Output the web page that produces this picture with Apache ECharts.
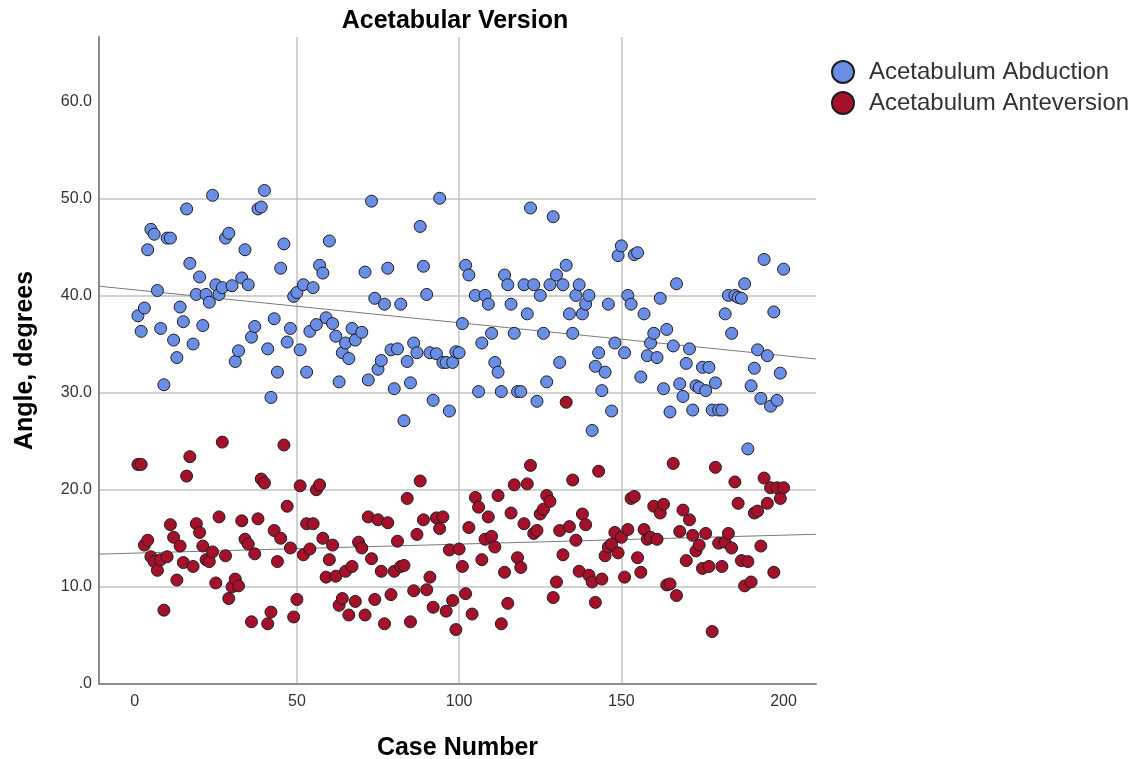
<!DOCTYPE html>
<html>
<head>
<meta charset="utf-8">
<script src="https://cdn.jsdelivr.net/npm/echarts@6/dist/echarts.min.js"></script>
<style>
  html, body { margin: 0; padding: 0; background: #fff; }
  #chart { width: 1135px; height: 759px; }
</style>
</head>
<body>
<div id="chart"></div>
<script>
// 数据：每个病例一个点，null = 缺失
var abduction = [
  37.9, 36.3, 38.7, 44.7, 46.8, 46.3, 40.5, 36.6, 30.8, 45.9,
  45.9, 35.4, 33.6, 38.8, 37.3, 48.9, 43.3, 35.0, 40.1, 41.9,
  36.9, 40.1, 39.3, 50.3, 41.1, 40.1, 40.8, 45.9, 46.4, 41.0,
  33.2, 34.3, 41.8, 44.7, 41.1, 35.7, 36.8, 48.9, 49.1, 50.8,
  34.5, 29.5, 37.6, 32.1, 42.8, 45.3, 35.2, 36.6, 39.9, 40.3,
  34.4, 41.1, 32.1, 36.3, 40.8, 37.0, 43.1, 42.3, 37.7, 45.6,
  37.1, 35.8, 31.1, 34.1, 35.1, 33.5, 36.6, 35.4, null, 36.2,
  42.4, 31.3, 49.7, 39.7, 32.4, 33.3, 39.1, 42.8, 34.4, 30.4,
  34.5, 39.1, 27.1, 33.2, 31.0, 35.1, 34.1, 47.1, 43.0, 40.1,
  34.1, 29.2, 34.0, 50.0, 33.1, 33.1, 28.1, 33.1, 34.2, 34.1,
  37.1, 43.1, 42.1, null, 40.0, 30.1, 35.1, 40.0, 39.1, 36.1,
  33.1, 32.1, 30.1, 42.1, 41.1, 39.1, 36.1, 30.1, 30.1, 41.1,
  38.1, 49.0, 41.1, 29.1, 40.0, 36.1, 31.1, 41.1, 48.1, 42.1,
  33.1, 41.1, 43.1, 38.1, 36.1, 40.0, 41.1, 38.1, 39.1, 40.0,
  26.1, 32.7, 34.1, 30.2, 32.1, 39.1, 28.1, 35.1, 44.1, 45.1,
  34.1, 40.0, 39.1, 44.2, 44.4, 31.6, 38.1, 33.8, 35.1, 36.1,
  33.6, 39.7, 30.4, 36.5, 28.0, 34.8, 41.2, 30.9, 29.6, 33.0,
  34.5, 28.2, 30.7, 30.5, 32.6, 30.2, 32.6, 28.2, 31.0, 28.2,
  28.2, 38.1, 40.0, 36.1, 40.0, 39.8, 39.7, 41.2, 24.2, 30.7,
  32.5, 34.4, 29.4, 43.7, 33.8, 28.6, 38.3, 29.2, 32.0, 42.7
];
var anteversion = [
  22.6, 22.6, 14.3, 14.8, 13.1, 12.6, 11.7, 12.8, 7.6, 13.1,
  16.4, 15.1, 10.7, 14.2, 12.5, 21.4, 23.4, 12.1, 16.5, 15.6,
  14.2, 12.8, 12.6, 13.6, 10.4, 17.2, 24.9, 13.2, 8.8, 10.0,
  10.8, 10.1, 16.8, 14.9, 14.4, 6.4, 13.4, 17.0, 21.1, 20.7,
  6.2, 7.4, 15.8, 12.6, 15.0, 24.6, 18.3, 14.0, 6.9, 8.7,
  20.4, 13.3, 16.5, 13.9, 16.5, 20.0, 20.5, 15.0, 11.0, 12.8,
  14.3, 11.1, 8.1, 8.8, 11.6, 7.1, 12.1, 8.5, 14.6, 14.0,
  7.1, 17.2, 12.9, 8.7, 16.9, 11.6, 6.2, 16.6, 9.2, 11.6,
  14.7, 12.1, 12.2, 19.1, 6.4, 9.6, 15.4, 20.9, 16.9, 9.7,
  11.0, 7.9, 17.1, 16.0, 17.2, 7.5, 13.8, 8.6, 5.6, 13.9,
  12.1, 9.3, 16.1, 7.2, 19.2, 18.2, 12.8, 14.9, 17.2, 15.2,
  14.1, 19.4, 6.2, 11.5, 8.3, 17.6, 20.5, 13.0, 12.0, 16.5,
  20.6, 22.5, 15.5, 15.8, 17.5, 18.0, 19.4, 18.8, 8.9, 10.5,
  15.8, 13.3, 29.0, 16.2, 21.0, 14.8, 11.6, 17.5, 16.4, 11.2,
  10.5, 8.4, 21.9, 10.8, 13.2, 14.1, 14.4, 15.6, 13.5, 15.1,
  11.0, 15.9, 19.1, 19.3, 13.0, 11.5, 15.9, 14.9, 15.1, 18.3,
  14.9, 17.6, 18.5, 10.2, 10.3, 22.7, 9.1, 15.7, 17.9, 12.7,
  16.9, 15.3, 13.7, 14.3, 11.9, 15.5, 12.1, 5.4, 22.3, 14.5,
  12.1, 14.6, 15.5, 14.0, 20.8, 18.6, 12.7, 10.1, 12.6, 10.5,
  17.6, 17.8, 14.2, 21.2, 18.6, 20.2, 11.5, 20.2, 19.1, 20.2
];
var seriesNames = ['Acetabulum Abduction', 'Acetabulum Anteversion'];
var xTicks = [0, 50, 100, 150, 200];
var yTicks = [0, 10, 20, 30, 40, 50, 60];
var xMin = -11, xMax = 210;
var yMin = 0, yMax = 66.6;

function toPoints(values) {
  var pts = [];
  values.forEach(function(v, i) {
    if (v !== null) pts.push([i + 1, v]);
  });
  return pts;
}

// 线性拟合（总体拟合线）
function fitLine(points) {
  var n = points.length, sx = 0, sy = 0, sxx = 0, sxy = 0;
  points.forEach(function(p) {
    sx += p[0]; sy += p[1]; sxx += p[0] * p[0]; sxy += p[0] * p[1];
  });
  var b = (n * sxy - sx * sy) / (n * sxx - sx * sx);
  var a = (sy - b * sx) / n;
  return [[xMin, a + b * xMin], [xMax, a + b * xMax]];
}

var abdPts = toPoints(abduction);
var antPts = toPoints(anteversion);

var font = '"Liberation Sans", Arial, sans-serif';
var gridLine = { color: '#c2c2c2', width: 1.5 };
var chart = echarts.init(document.getElementById('chart'));

function scatter(name, data, color) {
  return {
    name: name,
    type: 'scatter',
    data: data,
    symbolSize: 12,
    itemStyle: { color: color, borderColor: '#1e1e1e', borderWidth: 1, opacity: 1 },
    z: 3
  };
}
function fit(data) {
  return {
    type: 'line',
    data: data,
    symbol: 'none',
    silent: true,
    lineStyle: { color: '#7a7a7a', width: 1 },
    z: 2
  };
}

chart.setOption({
  animation: false,
  title: {
    text: 'Acetabular Version',
    left: 450,
    top: 4,
    textAlign: 'center',
    textStyle: { fontFamily: font, fontSize: 25, fontWeight: 'bold', color: '#000' }
  },
  legend: {
    data: seriesNames,
    orient: 'vertical',
    left: 831,
    top: 60,
    padding: 0,
    icon: 'circle',
    itemWidth: 42,
    itemHeight: 22,
    itemGap: 7,
    textStyle: { fontFamily: font, fontSize: 24, color: '#333' }
  },
  grid: { left: 99, right: 319, top: 37, bottom: 75, outerBoundsMode: 'none', containLabel: false },
  xAxis: {
    type: 'value',
    min: xMin,
    max: xMax,
    name: 'Case Number',
    nameLocation: 'middle',
    nameGap: 52,
    nameTextStyle: { fontFamily: font, fontSize: 25, fontWeight: 'bold', color: '#000' },
    axisLine: { show: true, onZero: false, lineStyle: { color: '#8c8c8c', width: 2 } },
    axisTick: { show: false, customValues: xTicks },
    axisLabel: { fontFamily: font, fontSize: 16, color: '#333', margin: 10, customValues: xTicks },
    splitLine: { show: true, showMinLine: false, showMaxLine: false, lineStyle: gridLine }
  },
  yAxis: {
    type: 'value',
    min: yMin,
    max: yMax,
    name: 'Angle, degrees',
    nameLocation: 'middle',
    nameGap: 61,
    nameTextStyle: { fontFamily: font, fontSize: 25, fontWeight: 'bold', color: '#000' },
    axisLine: { show: true, onZero: false, lineStyle: { color: '#8c8c8c', width: 2 } },
    axisTick: { show: false, customValues: yTicks },
    axisLabel: {
      fontFamily: font, fontSize: 16, color: '#333', margin: 7, customValues: yTicks,
      formatter: function(v) { return v === 0 ? '.0' : v.toFixed(1); }
    },
    splitLine: { show: true, showMinLine: false, showMaxLine: false, lineStyle: gridLine }
  },
  series: [
    fit(fitLine(abdPts)),
    fit(fitLine(antPts)),
    scatter(seriesNames[0], abdPts, '#6a8ee6'),
    scatter(seriesNames[1], antPts, '#a5112b')
  ]
});
</script>
</body>
</html>
